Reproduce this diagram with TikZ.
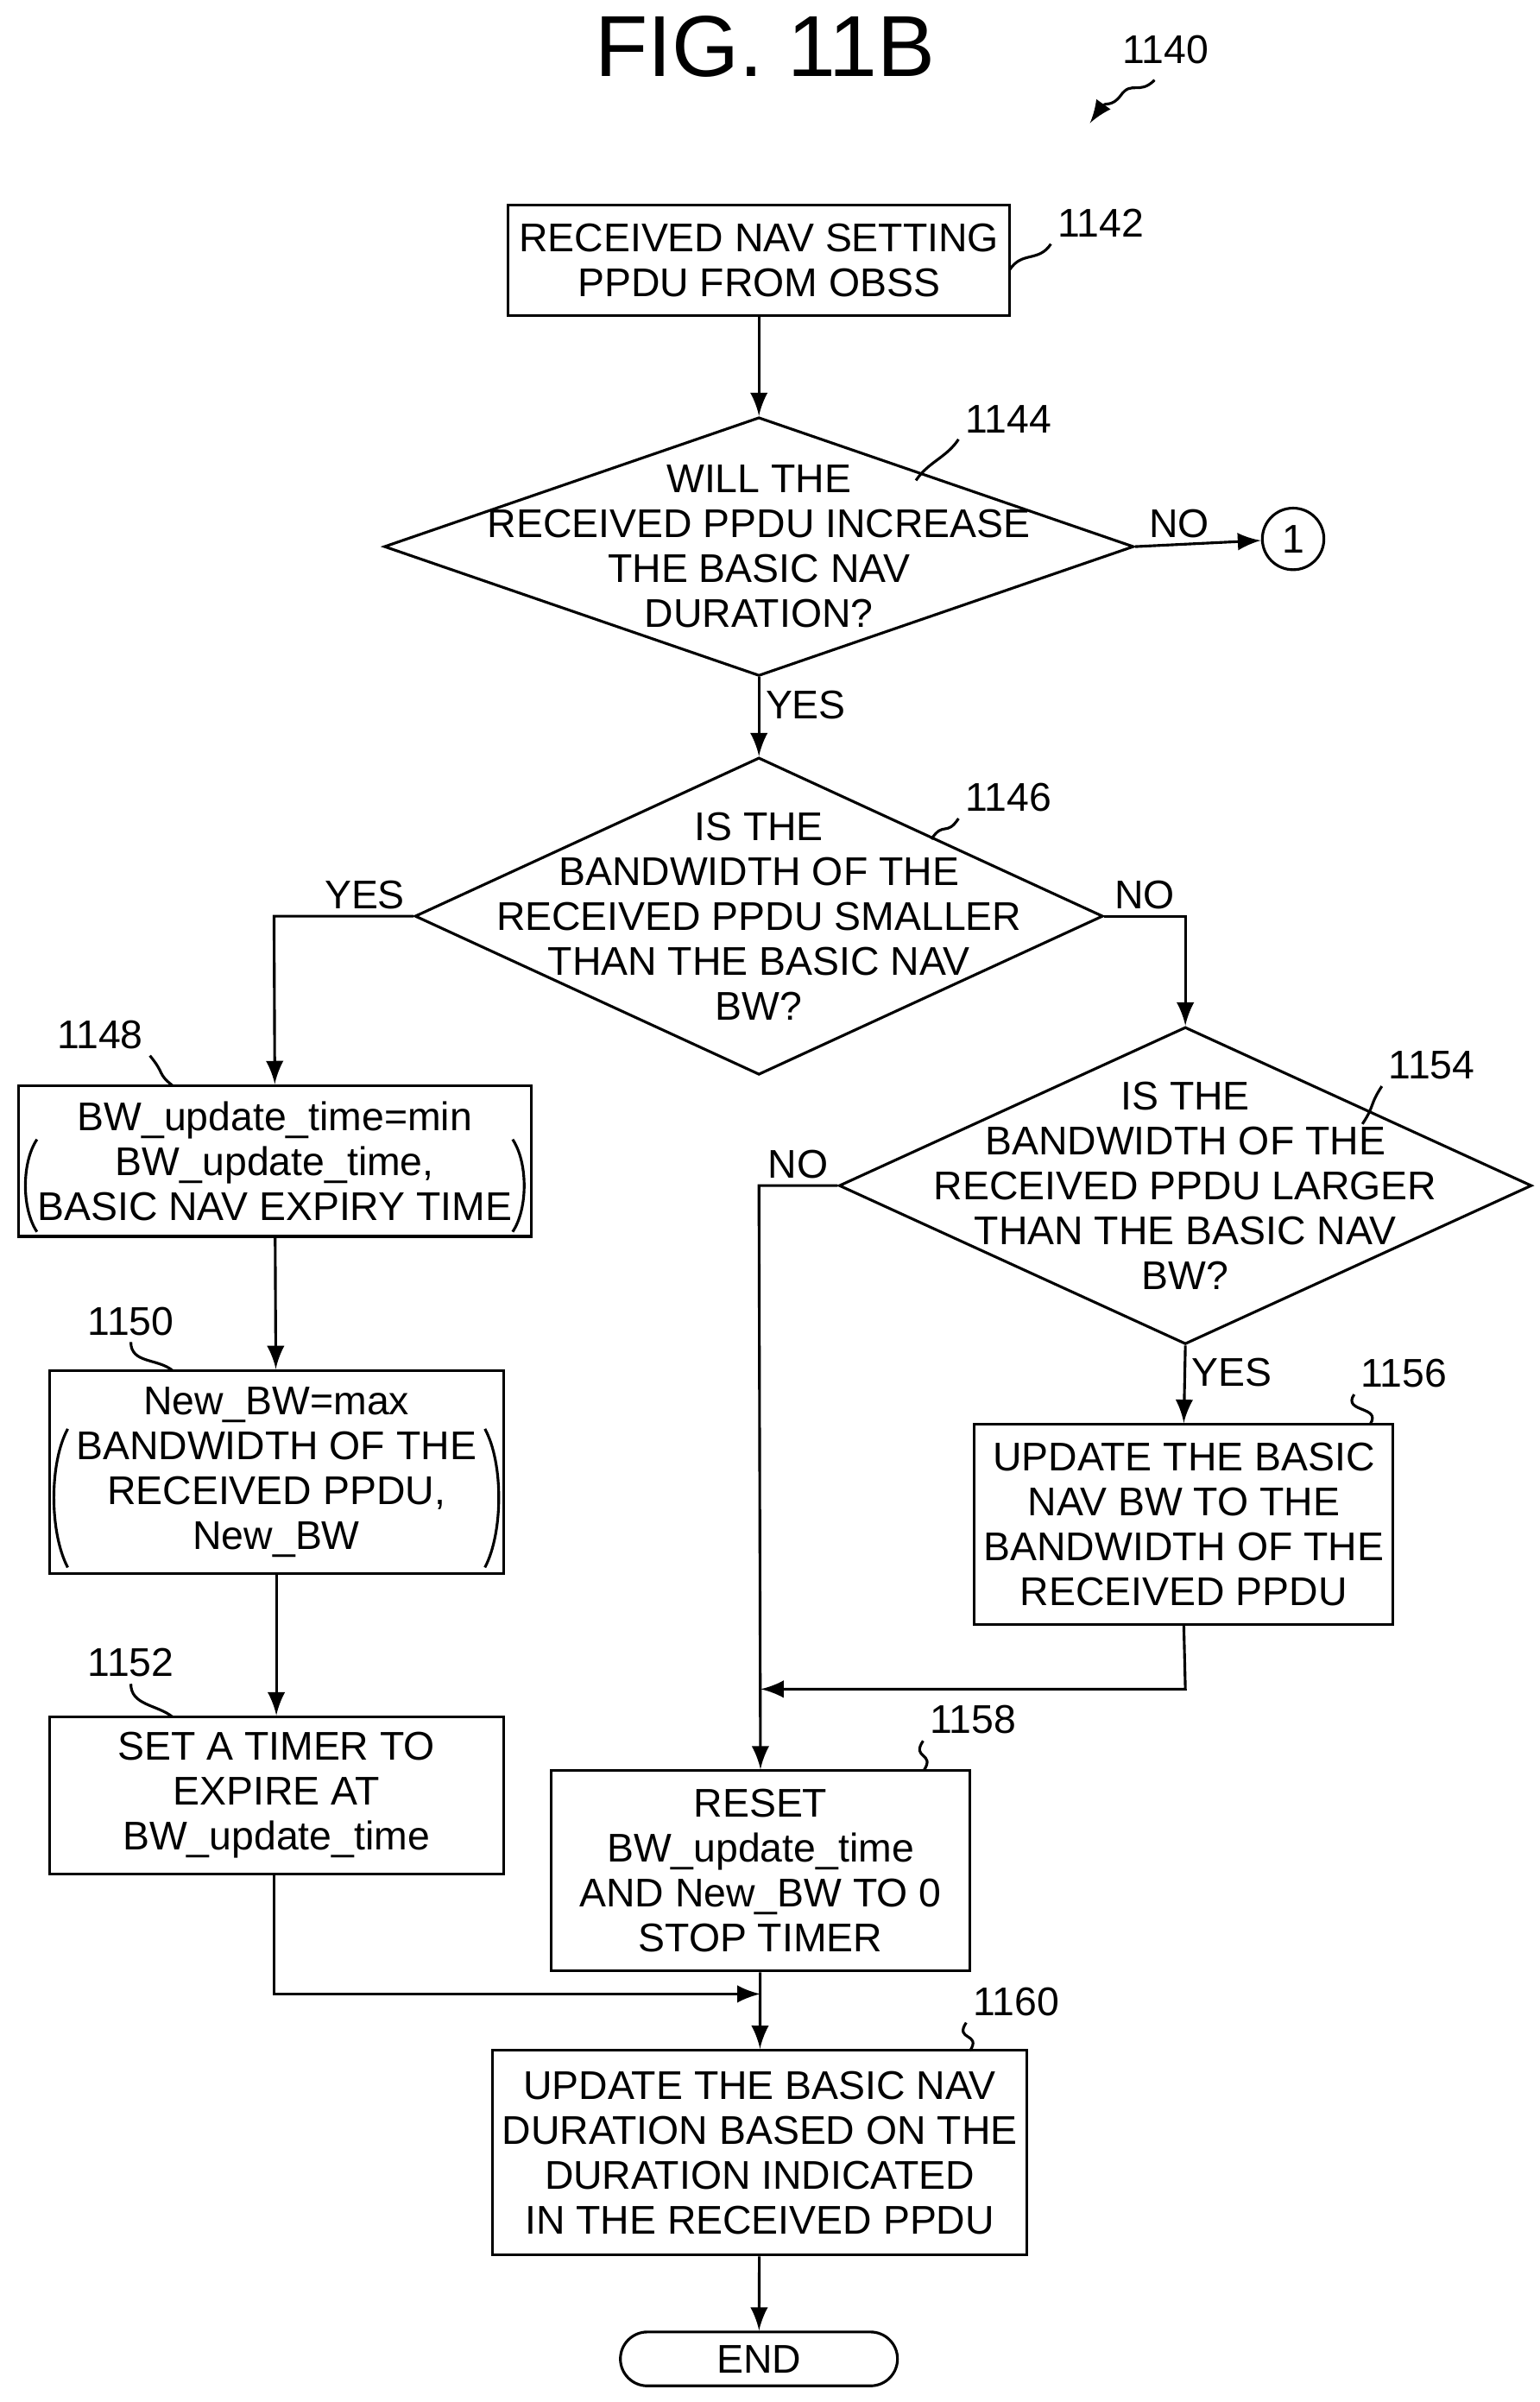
\documentclass[tikz,border=0pt]{standalone}
\usepackage{fontspec}
\setmainfont{Liberation Sans}
\usetikzlibrary{shapes.geometric}
\tikzset{
  txt/.style={align=center,font=\fontsize{7.4}{8.3}\selectfont,inner sep=0},
  box/.style={draw,rectangle,inner sep=0},
  dia/.style={draw,diamond,inner sep=0},
  lbl/.style={font=\fontsize{7.4}{8.3}\selectfont,inner sep=1pt},
}
\newcommand{\lead}[2]{\draw (#1) .. controls +(-8,12) and +(8,-12) .. (#2);}
\begin{document}
\begin{tikzpicture}[>=latex,x=0.1mm,y=-0.1mm,line width=0.5pt]
\useasboundingbox (0,0) rectangle (1000,1560);
\node[font=\fontsize{16}{18}\selectfont] (title) at (497,30) {FIG. 11B};
\node[lbl] (n1140) at (757,32) {1140};
\draw[->] (750,52) .. controls (740,62) and (735,52) .. (728,62) .. controls (722,70) and (718,66) .. (708,80);
% boxes
\node[box,minimum width=32.6mm,minimum height=7.2mm] (b1142) at (493,169) {};
\node[txt] at (b1142) {RECEIVED NAV SETTING\\PPDU FROM OBSS};
\node[box,minimum width=33.3mm,minimum height=9.8mm] (b1148) at (178.5,754) {};
\node[txt] at (b1148) {BW\_update\_time=min\\BW\_update\_time,\\BASIC NAV EXPIRY TIME};
\node[box,minimum width=29.5mm,minimum height=13.2mm] (b1150) at (179.5,956) {};
\node[txt] at (b1150) {New\_BW=max\\BANDWIDTH OF THE\\RECEIVED PPDU,\\New\_BW};
\node[box,minimum width=29.5mm,minimum height=10.2mm] (b1152) at (179.5,1166) {};
\node[txt] at (b1152) {SET A TIMER TO\\EXPIRE AT\\BW\_update\_time};
\node[box,minimum width=27.2mm,minimum height=13mm] (b1156) at (769,990) {};
\node[txt] at (b1156) {UPDATE THE BASIC\\NAV BW TO THE\\BANDWIDTH OF THE\\RECEIVED PPDU};
\node[box,minimum width=27.2mm,minimum height=13mm] (b1158) at (494,1215) {};
\node[txt] at (b1158) {RESET\\BW\_update\_time\\AND New\_BW TO 0\\STOP TIMER};
\node[box,minimum width=34.7mm,minimum height=13.3mm] (b1160) at (493.5,1398) {};
\node[txt] at (b1160) {UPDATE THE BASIC NAV\\DURATION BASED ON THE\\DURATION INDICATED\\IN THE RECEIVED PPDU};
\node[box,rounded corners=1.75mm,minimum width=18mm,minimum height=3.5mm] (end) at (493,1532) {};
\node[txt] at (end) {END};
% parentheses
\draw (24,740) .. controls (14,755) and (14,785) .. (24,800);
\draw (333,740) .. controls (343,755) and (343,785) .. (333,800);
\draw (44,928) .. controls (32,950) and (32,995) .. (44,1018);
\draw (315,928) .. controls (327,950) and (327,995) .. (315,1018);
% decisions
\node[dia,minimum width=48.7mm,minimum height=16.8mm] (d1144) at (493,355) {};
\node[txt] at (d1144) {WILL THE\\RECEIVED PPDU INCREASE\\THE BASIC NAV\\DURATION?};
\node[dia,minimum width=44.7mm,minimum height=20.6mm] (d1146) at (493,595) {};
\node[txt] at (d1146) {IS THE\\BANDWIDTH OF THE\\RECEIVED PPDU SMALLER\\THAN THE BASIC NAV\\BW?};
\node[dia,minimum width=45mm,minimum height=20.6mm] (d1154) at (770,770) {};
\node[txt] at (d1154) {IS THE\\BANDWIDTH OF THE\\RECEIVED PPDU LARGER\\THAN THE BASIC NAV\\BW?};
\node[draw,circle,minimum size=4mm,inner sep=0,txt] (c1) at (840,350) {1};
% reference labels
\node[lbl] (n1142) at (715,145) {1142};
\lead{n1142.south west}{656,175}
\node[lbl] (n1144) at (655,272) {1144};
\lead{n1144.south west}{595,312}
\node[lbl] (n1146) at (655,518) {1146};
\lead{n1146.south west}{605,545}
\node[lbl] (n1148) at (65,672) {1148};
\draw (n1148.south east) .. controls +(10,12) and +(-10,-8) .. (112,705);
\node[lbl] (n1150) at (85,858) {1150};
\draw (n1150.south) .. controls +(0,14) and +(-10,-8) .. (112,890);
\node[lbl] (n1152) at (85,1080) {1152};
\draw (n1152.south) .. controls +(0,14) and +(-10,-8) .. (112,1115);
\node[lbl] (n1154) at (930,692) {1154};
\lead{n1154.south west}{885,730}
\node[lbl] (n1156) at (912,892) {1156};
\lead{n1156.south west}{890,925}
\node[lbl] (n1158) at (632,1117) {1158};
\lead{n1158.south west}{600,1150}
\node[lbl] (n1160) at (660,1300) {1160};
\lead{n1160.south west}{630,1332}
% connectors
\coordinate (j1148) at (178,595);
\coordinate (j1154) at (770,595);
\coordinate (j1158) at (493,770);
\coordinate (j1156) at (770,1097);
\coordinate (j1152) at (178,1295);
\draw[->] (b1142) -- (d1144);
\draw[->] (d1144.east) -- node[lbl,above,pos=0.35] {NO} (c1);
\draw[->] (d1144.south) -- node[lbl,right,pos=0.35] {YES} (d1146.north);
\draw[->] (d1146.west) -- node[lbl,above,pos=0.35] {YES} (j1148) -- (b1148.north);
\draw[->] (d1146.east) -- node[lbl,above,pos=0.5] {NO} (j1154) -- (d1154.north);
\draw[->] (b1148) -- (b1150);
\draw[->] (b1150) -- (b1152);
\draw[->] (d1154.west) -- node[lbl,above,pos=0.5] {NO} (j1158) -- (b1158.north);
\draw[->] (d1154.south) -- node[lbl,right,pos=0.35] {YES} (b1156.north);
\draw[->] (b1156.south) -- (j1156) -- (j1156 -| b1158);
\draw[->] (b1152.south -| j1152) -- (j1152) -- (j1152 -| b1158);
\draw[->] (b1158) -- (b1160);
\draw[->] (b1160) -- (end);
\end{tikzpicture}
\end{document}
